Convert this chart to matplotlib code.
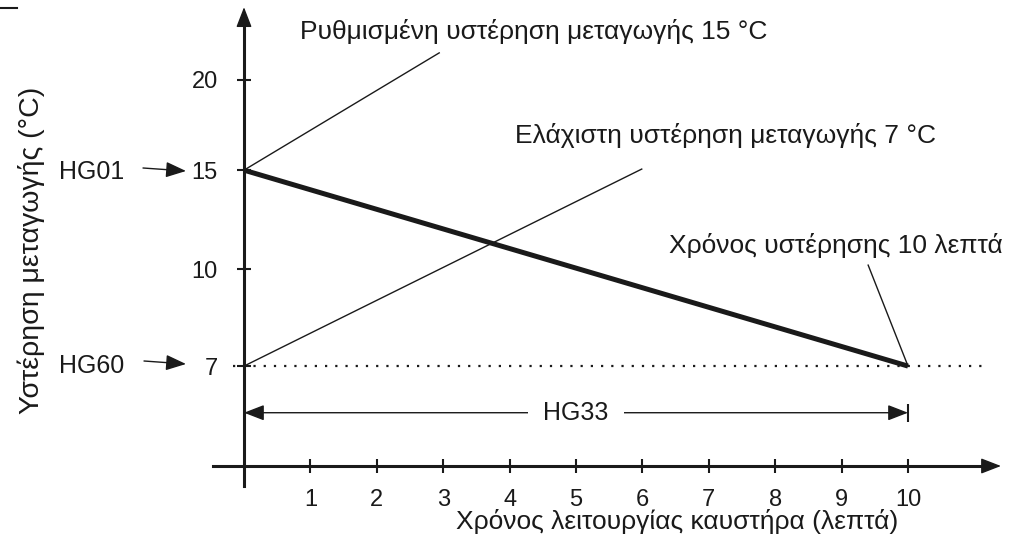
import numpy as np
import matplotlib
matplotlib.use('Agg')
import matplotlib.pyplot as plt
from matplotlib.transforms import Affine2D
from matplotlib.lines import Line2D

plt.rcParams['font.family'] = ['Liberation Sans', 'DejaVu Sans']

# ---------------- data ----------------
time_min = [0, 10]                 # burner run time (minutes)
hysteresis = [15, 7]               # switching hysteresis (°C): HG01 -> HG60
x_ticks = list(range(1, 11))
x_tick_labels = [str(v) for v in x_ticks]
y_ticks = [7, 10, 15, 20]
y_tick_labels = ['7', '10', '15', '20']
set_hyst = 15                      # HG01
min_hyst = 7                       # HG60
hyst_time = 10                     # HG33
hg33_level = 5.6

title_set = 'Ρυθμισμένη υστέρηση μεταγωγής 15 °C'
title_min = 'Ελάχιστη υστέρηση μεταγωγής 7 °C'
title_time = 'Χρόνος υστέρησης 10 λεπτά'
xlabel = 'Χρόνος λειτουργίας καυστήρα (λεπτά)'
ylabel = 'Υστέρηση μεταγωγής (°C)'

# schematic (non-linear) y axis: value -> drawing position
VAL_NODES = [-20, 4, 7, 10, 15, 20, 40]
POS_NODES = [-8.24, 0, 1.03, 2.03, 3.05, 3.98, 7.70]

def fwd(v):
    return np.interp(v, VAL_NODES, POS_NODES)

def inv(p):
    return np.interp(p, POS_NODES, VAL_NODES)

W, H = 1015, 544
fig = plt.figure(figsize=(W / 100, H / 100), dpi=100)
ax = fig.add_axes([0, 0, 1, 1])
ax.set_yscale('function', functions=(fwd, inv))
ax.set_xlim(-244 / 66.4, (W - 244) / 66.4)
ax.set_ylim(inv(-78 / 97), inv(466 / 97))

# pixel transform (top-left origin) for free text
T = Affine2D().scale(1 / W, -1 / H).translate(0, 1) + fig.transFigure

ink = '#1a1a1a'
fs_note = 19
fs_hg = 18
fs_tick = 17
fs_xl = 19
fs_yl = 20.5

# spines as axes
for s in ['top', 'right']:
    ax.spines[s].set_visible(False)
ax.spines['left'].set_position(('data', 0))
ax.spines['bottom'].set_position(('data', 4))
ax.spines['left'].set_bounds(inv(-0.206), inv(4.62))
ax.spines['bottom'].set_bounds(-0.47, 11.2)
for s in ['left', 'bottom']:
    ax.spines[s].set_linewidth(2.2)
    ax.spines[s].set_color(ink)

head = dict(arrowstyle='-|>,head_length=0.62,head_width=0.24', mutation_scale=20,
            lw=1, color=ink, shrinkA=0, shrinkB=0)
ax.annotate('', xy=(0, inv(4.73)), xytext=(0, inv(4.5)), arrowprops=head)
ax.annotate('', xy=(11.4, 4), xytext=(11.0, 4), arrowprops=head)

ax.set_xticks(x_ticks)
ax.set_xticklabels(x_tick_labels)
ax.set_yticks(y_ticks)
ax.set_yticklabels(y_tick_labels)
ax.minorticks_off()
ax.tick_params(axis='both', direction='inout', length=9.5, width=1.5, color=ink,
               labelsize=fs_tick, labelcolor=ink)
ax.tick_params(axis='x', pad=11.5)
ax.tick_params(axis='y', pad=14)

# main hysteresis line
ax.plot(time_min, hysteresis, color=ink, lw=3.6, solid_capstyle='butt', zorder=5)

# minimum hysteresis dotted line
ax.plot([-0.17, 11.16], [min_hyst, min_hyst], color=ink, lw=1.6,
        ls=(0, (1, 3.6)), zorder=3)

# leader lines
leader = dict(color=ink, lw=1.0)
ax.plot([0, 2.94], [set_hyst, 21.5], **leader)
ax.plot([0, 5.99], [min_hyst, 15.06], **leader)
ax.plot([hyst_time, 9.40], [min_hyst, 10.2], **leader)

ax.text(300, 32, title_set, transform=T, ha='left', va='center', fontsize=fs_note, color=ink)
ax.text(515, 136, title_min, transform=T, ha='left', va='center', fontsize=fs_note, color=ink)
ax.text(1003, 246, title_time, transform=T, ha='right', va='center', fontsize=fs_note, color=ink)

# HG33 dimension arrow
ax.annotate('', xy=(0, hg33_level), xytext=(5, hg33_level), arrowprops=head)
ax.annotate('', xy=(hyst_time, hg33_level), xytext=(5, hg33_level), arrowprops=head)
ax.plot([hyst_time], [hg33_level], marker='|', ms=13, mew=1.5, color=ink)
ax.text(5, hg33_level, 'HG33', ha='center', va='center', fontsize=fs_hg, color=ink,
        bbox=dict(boxstyle='square,pad=0.6', fc='white', ec='none'), zorder=6)

# HG01 / HG60 markers
ax.text(92, 172, 'HG01', transform=T, ha='center', va='center', fontsize=fs_hg, color=ink)
ax.text(92, 366, 'HG60', transform=T, ha='center', va='center', fontsize=fs_hg, color=ink)
ax.annotate('', xy=(186, 171), xytext=(143, 168), xycoords=T, textcoords=T, arrowprops=head)
ax.annotate('', xy=(186, 364), xytext=(144, 361), xycoords=T, textcoords=T, arrowprops=head)

# axis titles
ax.text(677, 522, xlabel, transform=T, ha='center', va='center', fontsize=fs_xl, color=ink)
ax.text(31, 250, ylabel, transform=T, ha='center', va='center', fontsize=fs_yl,
        color=ink, rotation=90)

# small crop mark at top-left
fig.add_artist(Line2D([0, 17 / W], [1 - 8 / H, 1 - 8 / H], transform=fig.transFigure,
                      color=ink, lw=1.5))

fig.savefig('out.png', dpi=100)
